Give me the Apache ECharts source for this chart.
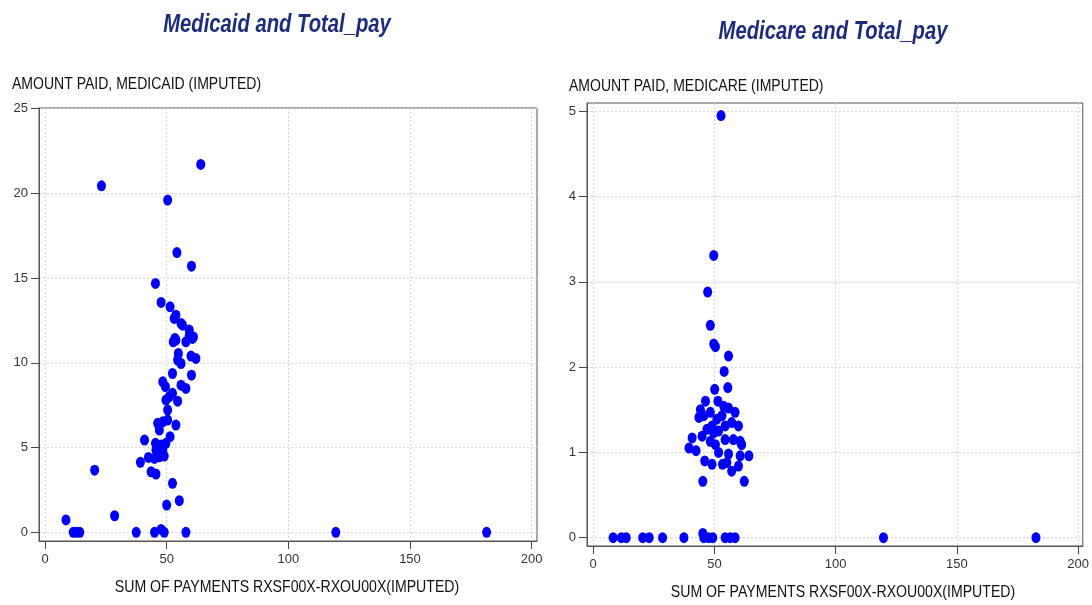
<!DOCTYPE html>
<html>
<head>
<meta charset="utf-8">
<script src="https://cdn.jsdelivr.net/npm/echarts@6/dist/echarts.min.js"></script>
<style>
  html, body { margin: 0; padding: 0; background: #ffffff; }
  #chart { width: 1092px; height: 605px; }
</style>
</head>
<body>
<div id="chart"></div>
<script>
// Total pharmacy payments (x) against Medicaid amounts (y)
const medicaidPay = [
  8.6, 11.6, 12.9, 14.3, 28.6, 20.4, 37.5, 45.0, 47.7, 49.0, 57.9, 119.5, 181.5,
  50.0, 55.2, 52.4, 43.6, 45.6, 39.2, 42.5, 40.9, 45.0, 47.0, 49.0, 45.4, 47.7,
  49.7, 45.6, 48.4, 51.4, 46.3, 48.4, 50.4, 47.0, 53.8, 50.4, 49.7, 51.1, 54.5,
  52.4, 55.9, 57.9, 48.4, 49.5, 52.4, 60.2, 55.9, 54.5, 62.0, 60.0, 54.8, 52.7,
  53.8, 57.9, 60.6, 59.3, 64.0, 23.2, 50.4, 54.2, 60.2, 45.4, 47.7, 51.4, 53.1,
  53.8, 56.5, 55.9, 59.3, 61.0, 53.4
];
const medicaidAmt = [
  0.73, 0, 0, 0, 0.98, 3.67, 0, 0, 0.17, 0, 0, 0, 0,
  1.61, 1.87, 2.89, 3.57, 3.44, 4.13, 4.42, 5.44, 4.36, 4.46, 4.50, 5.25, 5.15,
  5.25, 4.85, 4.85, 5.64, 6.43, 6.52, 6.62, 6.03, 6.33, 7.21, 7.80, 8.00, 7.74,
  8.20, 8.68, 8.49, 8.88, 8.59, 9.37, 9.27, 9.96, 10.16, 10.26, 10.40, 10.55, 11.24,
  11.34, 11.24, 11.44, 11.63, 21.70, 20.44, 19.60, 16.50, 15.70, 14.68, 13.56, 13.30, 12.62,
  12.81, 12.22, 12.32, 11.93, 11.53, 11.44
];

// Total pharmacy payments (x) against Medicare amounts (y)
const medicarePay = [
  52.7, 49.7, 47.2, 48.3, 49.7, 50.4, 55.8, 54.0, 50.1, 55.5,
  46.3, 44.2, 43.6, 45.6, 48.3, 51.4, 53.8, 55.8, 58.5, 51.0,
  53.1, 54.4, 57.1, 59.9, 49.0, 46.9, 49.7, 51.7, 44.9, 40.8,
  48.3, 50.4, 54.4, 57.8, 60.6, 61.2, 39.5, 42.4, 51.7, 55.8,
  60.6, 64.2, 46.0, 49.0, 53.3, 55.1, 59.9, 57.1, 45.2, 62.3,
  8.2, 11.6, 13.6, 20.4, 23.1, 28.6, 37.4, 45.2, 45.6, 47.6,
  49.3, 54.4, 56.5, 58.5, 119.7, 182.6
];
const medicareAmt = [
  4.95, 3.31, 2.88, 2.49, 2.27, 2.24, 2.13, 1.95, 1.74, 1.76,
  1.60, 1.50, 1.41, 1.43, 1.47, 1.60, 1.54, 1.52, 1.47, 1.39,
  1.43, 1.31, 1.35, 1.31, 1.31, 1.27, 1.23, 1.25, 1.19, 1.17,
  1.13, 1.09, 1.15, 1.15, 1.13, 1.09, 1.05, 1.02, 1.00, 0.98,
  0.96, 0.96, 0.90, 0.86, 0.86, 0.88, 0.84, 0.78, 0.66, 0.66,
  0, 0, 0, 0, 0, 0, 0, 0.05, 0, 0,
  0, 0, 0, 0, 0, 0
];

const payTicks = [0, 50, 100, 150, 200];
const medicaidTicks = [0, 5, 10, 15, 20, 25];
const medicareTicks = [0, 1, 2, 3, 4, 5];

const titles = ['Medicaid and Total_pay', 'Medicare and Total_pay'];
const yNames = ['AMOUNT PAID, MEDICAID (IMPUTED)', 'AMOUNT PAID, MEDICARE (IMPUTED)'];
const xName = 'SUM OF PAYMENTS RXSF00X-RXOU00X(IMPUTED)';

const SANS = "'Liberation Sans', Arial, sans-serif";

function zip(xs, ys) { return xs.map((x, i) => [x, ys[i]]); }

function valueAxis(gridIndex, min, max, ticks, isX) {
  return {
    type: 'value', gridIndex, min, max,
    axisLine: { show: true, onZero: false, lineStyle: { color: '#555555', width: 1 } },
    axisTick: { show: true, customValues: ticks, length: 8, inside: false, lineStyle: { color: '#444444' } },
    axisLabel: {
      show: true, customValues: ticks, margin: isX ? 12 : 11,
      color: '#333333', fontFamily: SANS, fontSize: 13
    },
    splitLine: { show: true, lineStyle: { color: '#d6d6d6', type: [2, 2], width: 1 } }
  };
}

// Condensed text: the regular sans face squeezed horizontally
function narrowText(text, x, y, align, size, weight, style, color, sx) {
  return {
    type: 'text', x, y, scaleX: sx, silent: true,
    style: {
      text, fill: color, align, verticalAlign: 'middle',
      font: `${style} ${weight} ${size}px ${SANS}`
    }
  };
}

const chart = echarts.init(document.getElementById('chart'), null, { renderer: 'canvas' });

chart.setOption({
  backgroundColor: '#ffffff',
  animation: false,
  graphic: [
    narrowText(titles[0], 277, 25, 'center', 25, 'bold', 'italic', '#1c2c80', 0.81),
    narrowText(titles[1], 833, 32, 'center', 25, 'bold', 'italic', '#1c2c80', 0.81),
    narrowText(yNames[0], 12, 84, 'left', 17, 'normal', 'normal', '#111111', 0.825),
    narrowText(yNames[1], 569, 86, 'left', 17, 'normal', 'normal', '#111111', 0.825),
    narrowText(xName, 287, 587, 'center', 17, 'normal', 'normal', '#111111', 0.83),
    narrowText(xName, 843, 592, 'center', 17, 'normal', 'normal', '#111111', 0.83)
  ],
  grid: [
    { left: 39, top: 108, width: 498, height: 433, show: true, borderColor: '#555555', borderWidth: 1, backgroundColor: '#ffffff' },
    { left: 587, top: 103, width: 501, height: 443, show: true, borderColor: '#555555', borderWidth: 1, backgroundColor: '#ffffff' }
  ],
  xAxis: [
    valueAxis(0, -2.47, 202.2, payTicks, true),
    valueAxis(1, -2.57, 201.9, payTicks, true)
  ],
  yAxis: [
    valueAxis(0, -0.51, 25.03, medicaidTicks, false),
    valueAxis(1, -0.098, 5.098, medicareTicks, false)
  ],
  series: [
    { type: 'scatter', xAxisIndex: 0, yAxisIndex: 0, data: zip(medicaidPay, medicaidAmt),
      symbol: 'circle', symbolSize: [9, 11], itemStyle: { color: '#0000ff', opacity: 1 } },
    { type: 'scatter', xAxisIndex: 1, yAxisIndex: 1, data: zip(medicarePay, medicareAmt),
      symbol: 'circle', symbolSize: [9, 11], itemStyle: { color: '#0000ff', opacity: 1 } }
  ]
});
</script>
</body>
</html>
